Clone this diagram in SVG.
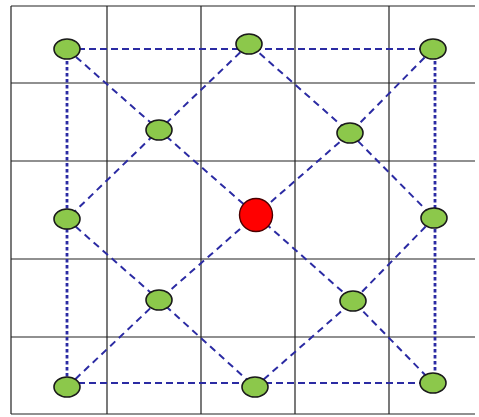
<svg xmlns="http://www.w3.org/2000/svg" width="479" height="417" viewBox="0 0 479 417">
<style>
.grid{stroke:#222;stroke-width:1.2;fill:none}
.h{stroke:#2b2ba3;stroke-width:2;stroke-dasharray:7 4;fill:none}
.v{stroke:#2b2ba3;stroke-width:2.8;stroke-dasharray:3.5 2.5;fill:none}
.d{stroke:#2b2ba3;stroke-width:2;stroke-dasharray:7 5;fill:none}
.g{fill:#8cc84b;stroke:#1a1a1a;stroke-width:1.6}
.r{fill:#ff0000;stroke:#4a0000;stroke-width:1.4}
</style>
<rect width="479" height="417" fill="#fff"/>
<g id="grid" class="grid">
<path d="M11 6V414M107 6V414M201 6V414M295 6V414M389 6V414"/>
<path d="M11 6H475M11 83H475M11 161H475M11 259H475M11 337H475M11 414H475"/>
</g>
<g id="connectors">
<path class="h" d="M67 49H433M67 383H433"/>
<path class="v" d="M67 49V387M435 49V383"/>
<path class="d" d="M67 49L159 130L256 215L353 301L433 383"/>
<path class="d" d="M433 49L350 133L256 215L159 300L67 387"/>
<path class="d" d="M249 44L159 130L67 219L159 300L255 387L353 301L434 218L350 133Z"/>
</g>
<g id="n1"><ellipse class="g" cx="67" cy="49" rx="13" ry="10"/></g>
<g id="n2"><ellipse class="g" cx="249" cy="44" rx="13" ry="10"/></g>
<g id="n3"><ellipse class="g" cx="433" cy="49" rx="13" ry="10"/></g>
<g id="n4"><ellipse class="g" cx="159" cy="130" rx="13" ry="10"/></g>
<g id="n5"><ellipse class="g" cx="350" cy="133" rx="13" ry="10"/></g>
<g id="n6"><ellipse class="g" cx="67" cy="219" rx="13" ry="10"/></g>
<g id="center"><circle class="r" cx="256" cy="215" r="16.5"/></g>
<g id="n7"><ellipse class="g" cx="434" cy="218" rx="13" ry="10"/></g>
<g id="n8"><ellipse class="g" cx="159" cy="300" rx="13" ry="10"/></g>
<g id="n9"><ellipse class="g" cx="353" cy="301" rx="13" ry="10"/></g>
<g id="n10"><ellipse class="g" cx="67" cy="387" rx="13" ry="10"/></g>
<g id="n11"><ellipse class="g" cx="255" cy="387" rx="13" ry="10"/></g>
<g id="n12"><ellipse class="g" cx="433" cy="383" rx="13" ry="10"/></g>
</svg>
